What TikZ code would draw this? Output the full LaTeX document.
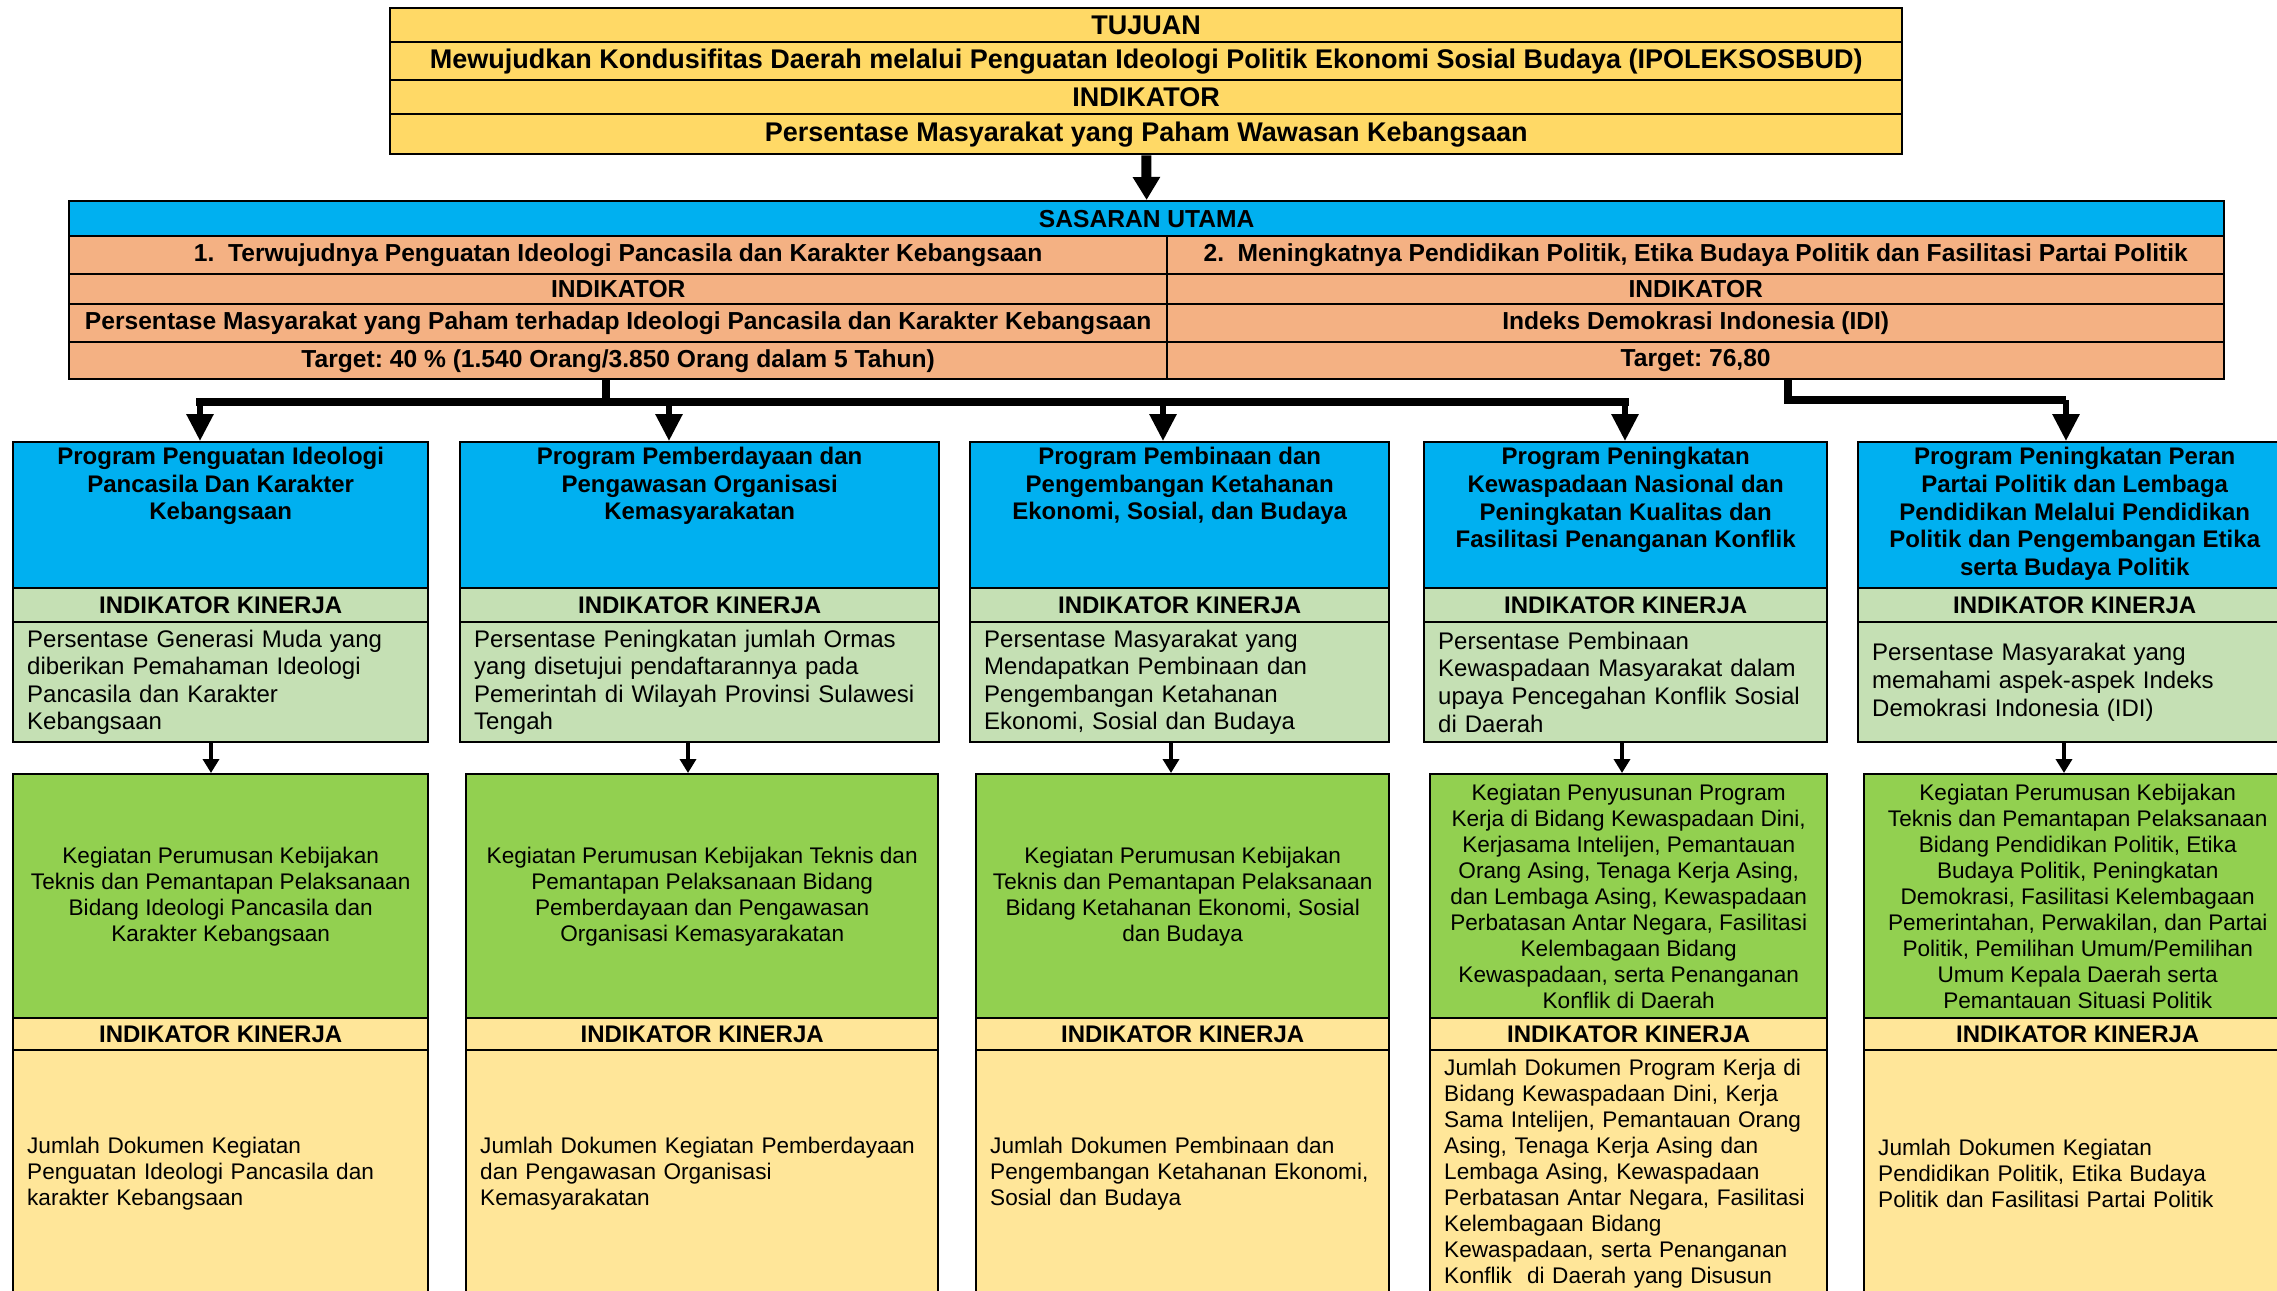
\documentclass[tikz,border=0pt]{standalone}
\usepackage{fontspec}
\setmainfont{Liberation Sans}
\usetikzlibrary{arrows.meta,positioning}
\definecolor{tujuan}{HTML}{FFD966}
\definecolor{biru}{HTML}{00B0F0}
\definecolor{salmon}{HTML}{F4B183}
\definecolor{hijaumuda}{HTML}{C5E0B4}
\definecolor{hijau}{HTML}{92D050}
\definecolor{kuning}{HTML}{FFE699}
\frenchspacing
\begin{document}
\begin{tikzpicture}[x=0.5pt,y=-0.5pt,
  cell/.style={draw, line width=1.2pt, anchor=north west, inner sep=0pt, align=center},
  top/.style={cell, fill=tujuan, minimum width=756pt, font=\fontsize{13.5}{15}\selectfont\bfseries},
  sas/.style={cell, fill=salmon, font=\fontsize{12.3}{14}\selectfont\bfseries},
  prog/.style={cell, fill=biru, minimum height=73pt},
  progtxt/.style={anchor=north, align=center, inner sep=0pt, font=\fontsize{12}{13.8}\selectfont\bfseries},
  head/.style={cell, font=\fontsize{12}{14}\selectfont\bfseries},
  ind/.style={cell, fill=hijaumuda, align=left, inner xsep=7pt, minimum height=60pt, font=\fontsize{12}{13.8}\selectfont},
  keg/.style={cell, fill=hijau, minimum height=122pt, font=\fontsize{11.3}{13}\selectfont},
  dok/.style={cell, fill=kuning, align=left, inner xsep=7pt, minimum height=123pt, font=\fontsize{11.3}{13}\selectfont},
  bus/.style={line width=4pt},
  arrbig/.style={-{Triangle[length=11.5pt,width=13pt]}, line width=5pt},
  arrmid/.style={-{Triangle[length=13.5pt,width=13pt]}, line width=3pt},
  arrsmall/.style={-{Triangle[length=7pt,width=8pt]}, line width=2pt}]
\useasboundingbox (0,0) rectangle (2277,1291);

% tujuan
\node[top, minimum height=17pt] (t1) at (389,7) {TUJUAN};
\node[top, minimum height=19pt] (t2) at (389,41) {Mewujudkan Kondusifitas Daerah melalui Penguatan Ideologi Politik Ekonomi Sosial Budaya (IPOLEKSOSBUD)};
\node[top, minimum height=17pt] (t3) at (389,79) {INDIKATOR};
\node[top, minimum height=20pt] (t4) at (389,113) {Persentase Masyarakat yang Paham Wawasan Kebangsaan};

% sasaran utama
\node[sas, fill=biru, minimum width=1077.5pt, minimum height=17.5pt] (s0) at (68,200) {SASARAN UTAMA};
\node[sas, minimum width=549pt, minimum height=19pt] (sa1) at (68,235) {1.\ \ Terwujudnya Penguatan Ideologi Pancasila dan Karakter Kebangsaan};
\node[sas, minimum width=549pt, minimum height=15pt] (sa2) at (68,273) {INDIKATOR};
\node[sas, minimum width=549pt, minimum height=19pt] (sa3) at (68,303) {Persentase Masyarakat yang Paham terhadap Ideologi Pancasila dan Karakter Kebangsaan};
\node[sas, minimum width=549pt, minimum height=18.5pt] (sa4) at (68,341) {Target: 40 \% (1.540 Orang/3.850 Orang dalam 5 Tahun)};
\node[sas, minimum width=528.5pt, minimum height=19pt] (sb1) at (1166,235) {2.\ \ Meningkatnya Pendidikan Politik, Etika Budaya Politik dan Fasilitasi Partai Politik};
\node[sas, minimum width=528.5pt, minimum height=15pt] (sb2) at (1166,273) {INDIKATOR};
\node[sas, minimum width=528.5pt, minimum height=19pt] (sb3) at (1166,303) {Indeks Demokrasi Indonesia (IDI)};
\node[sas, minimum width=528.5pt, minimum height=18.5pt] (sb4) at (1166,341) {Target: 76,80};

\draw[arrbig] (t4) -- (s0);

% program
\node[prog, minimum width=207.5pt] (p1) at (12,441) {};
\node[prog, minimum width=239.5pt] (p2) at (459,441) {};
\node[prog, minimum width=209.5pt] (p3) at (969,441) {};
\node[prog, minimum width=201.5pt] (p4) at (1423,441) {};
\node[prog, minimum width=216.5pt] (p5) at (1857,441) {};
\node[progtxt, below=3pt of p1.north] (pt1) {Program Penguatan Ideologi\\Pancasila Dan Karakter\\Kebangsaan};
\node[progtxt, below=3pt of p2.north] (pt2) {Program Pemberdayaan dan\\Pengawasan Organisasi\\Kemasyarakatan};
\node[progtxt, below=3pt of p3.north] (pt3) {Program Pembinaan dan\\Pengembangan Ketahanan\\Ekonomi, Sosial, dan Budaya};
\node[progtxt, below=3pt of p4.north] (pt4) {Program Peningkatan\\Kewaspadaan Nasional dan\\Peningkatan Kualitas dan\\Fasilitasi Penanganan Konflik};
\node[progtxt, below=3pt of p5.north] (pt5) {Program Peningkatan Peran\\Partai Politik dan Lembaga\\Pendidikan Melalui Pendidikan\\Politik dan Pengembangan Etika\\serta Budaya Politik};

\foreach \n/\x/\w in {1/12/207.5,2/459/239.5,3/969/209.5,4/1423/201.5,5/1857/216.5}
  \node[head, fill=hijaumuda, minimum width=\w pt, minimum height=17pt] (h\n) at (\x,587) {INDIKATOR KINERJA};

\node[ind, text width=193.5pt] (i1) at (12,621) {Persentase Generasi Muda yang\\diberikan Pemahaman Ideologi\\Pancasila dan Karakter\\Kebangsaan};
\node[ind, text width=225.5pt] (i2) at (459,621) {Persentase Peningkatan jumlah Ormas\\yang disetujui pendaftarannya pada\\Pemerintah di Wilayah Provinsi Sulawesi\\Tengah};
\node[ind, text width=195.5pt] (i3) at (969,621) {Persentase Masyarakat yang\\Mendapatkan Pembinaan dan\\Pengembangan Ketahanan\\Ekonomi, Sosial dan Budaya};
\node[ind, text width=187.5pt] (i4) at (1423,621) {Persentase Pembinaan\\Kewaspadaan Masyarakat dalam\\upaya Pencegahan Konflik Sosial\\di Daerah};
\node[ind, text width=202.5pt] (i5) at (1857,621) {Persentase Masyarakat yang\\memahami aspek-aspek Indeks\\Demokrasi Indonesia (IDI)};

% kegiatan
\node[keg, minimum width=207.5pt] (k1) at (12,773) {Kegiatan Perumusan Kebijakan\\Teknis dan Pemantapan Pelaksanaan\\Bidang Ideologi Pancasila dan\\Karakter Kebangsaan};
\node[keg, minimum width=236pt] (k2) at (465,773) {Kegiatan Perumusan Kebijakan Teknis dan\\Pemantapan Pelaksanaan Bidang\\Pemberdayaan dan Pengawasan\\Organisasi Kemasyarakatan};
\node[keg, minimum width=206.5pt] (k3) at (975,773) {Kegiatan Perumusan Kebijakan\\Teknis dan Pemantapan Pelaksanaan\\Bidang Ketahanan Ekonomi, Sosial\\dan Budaya};
\node[keg, minimum width=198.5pt] (k4) at (1429,773) {Kegiatan Penyusunan Program\\Kerja di Bidang Kewaspadaan Dini,\\Kerjasama Intelijen, Pemantauan\\Orang Asing, Tenaga Kerja Asing,\\dan Lembaga Asing, Kewaspadaan\\Perbatasan Antar Negara, Fasilitasi\\Kelembagaan Bidang\\Kewaspadaan, serta Penanganan\\Konflik di Daerah};
\node[keg, minimum width=213.5pt] (k5) at (1863,773) {Kegiatan Perumusan Kebijakan\\Teknis dan Pemantapan Pelaksanaan\\Bidang Pendidikan Politik, Etika\\Budaya Politik, Peningkatan\\Demokrasi, Fasilitasi Kelembagaan\\Pemerintahan, Perwakilan, dan Partai\\Politik, Pemilihan Umum/Pemilihan\\Umum Kepala Daerah serta\\Pemantauan Situasi Politik};

\foreach \n/\x/\w in {1/12/207.5,2/465/236,3/975/206.5,4/1429/198.5,5/1863/213.5}
  \node[head, fill=kuning, minimum width=\w pt, minimum height=16pt] (g\n) at (\x,1017) {INDIKATOR KINERJA};

\node[dok, text width=193.5pt] (d1) at (12,1049) {Jumlah Dokumen Kegiatan\\Penguatan Ideologi Pancasila dan\\karakter Kebangsaan};
\node[dok, text width=222pt] (d2) at (465,1049) {Jumlah Dokumen Kegiatan Pemberdayaan\\dan Pengawasan Organisasi\\Kemasyarakatan};
\node[dok, text width=192.5pt] (d3) at (975,1049) {Jumlah Dokumen Pembinaan dan\\Pengembangan Ketahanan Ekonomi,\\Sosial dan Budaya};
\node[dok, text width=184.5pt] (d4) at (1429,1049) {Jumlah Dokumen Program Kerja di\\Bidang Kewaspadaan Dini, Kerja\\Sama Intelijen, Pemantauan Orang\\Asing, Tenaga Kerja Asing dan\\Lembaga Asing, Kewaspadaan\\Perbatasan Antar Negara, Fasilitasi\\Kelembagaan Bidang\\Kewaspadaan, serta Penanganan\\Konflik\ \ di Daerah yang Disusun};
\node[dok, text width=199.5pt] (d5) at (1863,1049) {Jumlah Dokumen Kegiatan\\Pendidikan Politik, Etika Budaya\\Politik dan Fasilitasi Partai Politik};

% connectors
\coordinate (bus1) at (606,402);
\coordinate (bus2) at (1788,400);
\coordinate (q1) at (200,402);
\coordinate (q2) at (669,402);
\coordinate (q3) at (1163,402);
\coordinate (q4) at (1625,402);
\coordinate (q5) at (2066,400);
\draw[bus] (sa4.south -| bus1) -- (bus1);
\draw[bus, line cap=rect] (q1) -- (q4);
\draw[bus, line join=miter] (sb4.south -| bus2) -- (bus2) -- (q5);
\foreach \n in {1,...,5}
  \draw[arrmid] (q\n) -- (q\n |- p\n.north);
\foreach \n/\x in {1/211,2/688,3/1171,4/1622,5/2064} {
  \coordinate (a\n) at (\x,757);
  \draw[arrsmall] (i\n.south -| a\n) -- (k\n.north -| a\n);
}
\end{tikzpicture}
\end{document}
